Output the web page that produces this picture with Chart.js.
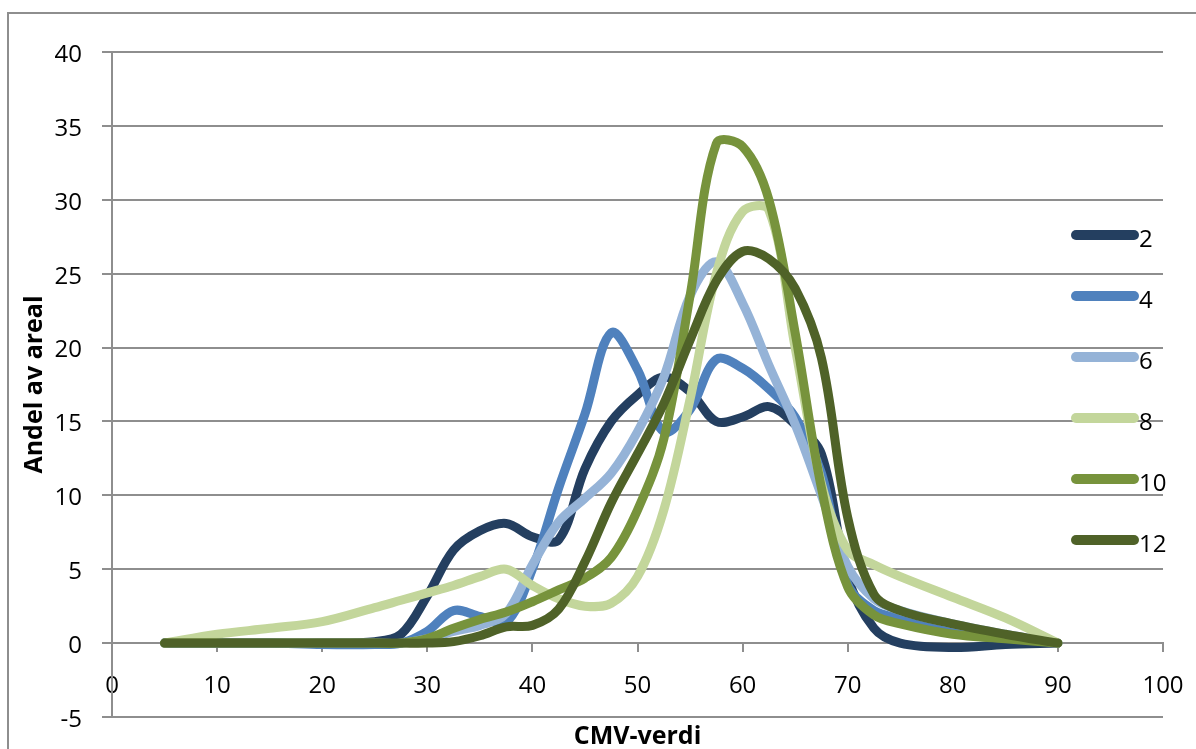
<!DOCTYPE html>
<html>
<head>
<meta charset="utf-8">
<script src="https://cdn.jsdelivr.net/npm/chart.js@4.4.0/dist/chart.umd.min.js"></script>
<style>
  html, body { margin: 0; padding: 0; background: #fff; overflow: hidden; }
  #wrap { position: relative; width: 1196px; height: 749px; overflow: hidden; }
  #frame { position: absolute; left: 7px; top: 12px; width: 1300px; height: 900px; border: 2px solid #8e8e8e; }
  #chart { position: absolute; left: 0; top: 0; }
  .item { position: absolute; left: 1071px; height: 10px; width: 110px; }
  .swatch { position: absolute; left: 0; top: 0; width: 68px; height: 10px; border-radius: 5px; }
  .label { position: absolute; left: 68px; top: -4px; font-family: 'Open Sans', sans-serif; font-size: 24px; line-height: 24px; color: #000; }
</style>
</head>
<body>
<div id="wrap">
  <div id="frame"></div>
  <canvas id="chart" width="1196" height="749"></canvas>
  <div id="legend"></div>
</div>
<script>
// CMV-verdi (x) where the curves were read
const cmv = [5, 10, 15, 20, 25, 27.5, 30, 32.5, 35, 37.5, 40, 42.5, 45, 47.5, 50,
  52.5, 55, 57.5, 60, 62.5, 65, 67.5, 70, 72.5, 75, 80, 85, 90];

// Andel av areal for each series
const s2  = [0, 0, 0, 0, 0.1, 0.6, 3.2, 6.3, 7.6, 8.1, 7.2, 7.0, 11.8, 15.0, 16.8,
  18.0, 17.0, 15.0, 15.3, 16.0, 14.8, 12.8, 4.5, 1.0, 0, -0.3, -0.1, 0];
const s4  = [0, 0, 0, -0.1, -0.1, 0, 0.8, 2.2, 1.8, 1.4, 5.0, 10.5, 15.5, 21.0, 18.5,
  14.3, 15.8, 19.2, 18.6, 17.2, 15.3, 11.5, 4.0, 2.2, 1.7, 1.0, 0.5, 0];
const s6  = [0, 0, 0, 0, 0, 0, 0.3, 0.8, 1.2, 2.0, 5.3, 8.2, 9.8, 11.5, 14.3,
  18.0, 23.5, 25.8, 23.0, 18.8, 14.8, 10.0, 5.2, 3.0, 2.2, 1.3, 0.6, 0];
const s8  = [0, 0.6, 1.0, 1.45, 2.4, 2.9, 3.4, 3.9, 4.5, 5.0, 3.9, 3.0, 2.5, 2.7, 4.5,
  9.0, 16.5, 25.0, 29.2, 29.3, 20.0, 10.8, 6.3, 5.3, 4.5, 3.1, 1.7, 0];
const s10 = [0, 0, 0, 0, 0, 0, 0.3, 1.0, 1.6, 2.1, 2.8, 3.6, 4.4, 5.8, 9.0,
  13.8, 23.5, 33.8, 33.6, 30.0, 21.0, 10.5, 3.8, 1.9, 1.3, 0.6, 0.3, 0];
const s12 = [0, 0, 0, 0, 0, 0, 0, 0.1, 0.5, 1.1, 1.2, 2.3, 5.5, 9.5, 12.8,
  16.2, 20.5, 24.5, 26.5, 26.0, 24.0, 19.3, 8.5, 3.3, 2.2, 1.3, 0.6, 0];

const seriesNames = ['2', '4', '6', '8', '10', '12'];
const seriesValues = [s2, s4, s6, s8, s10, s12];
const seriesColors = ['#243f60', '#4f81bd', '#95b3d7', '#c3d69b', '#77933c', '#4f6228'];

const gridColor = '#8e8e8e';
const fontFamily = 'Open Sans';

const datasets = seriesNames.map((name, i) => ({
  label: name,
  data: cmv.map((x, j) => ({ x: x, y: seriesValues[i][j] })),
  borderColor: seriesColors[i],
  backgroundColor: seriesColors[i],
  borderWidth: 9,
  borderCapStyle: 'round',
  borderJoinStyle: 'round',
  pointRadius: 0,
  tension: 0.35,
  fill: false,
  order: seriesNames.length - 1 - i  // later series drawn on top, like Excel
}));

// x axis sits at y = 0, so its title is drawn under the plot area instead
const xTitleBelow = {
  id: 'xTitleBelow',
  afterDraw(chart) {
    const { ctx, chartArea } = chart;
    ctx.save();
    ctx.font = 'bold 25px "' + fontFamily + '"';
    ctx.fillStyle = '#000';
    ctx.textAlign = 'center';
    ctx.textBaseline = 'middle';
    ctx.fillText('CMV-verdi', (chartArea.left + chartArea.right) / 2, chartArea.bottom + 20);
    ctx.restore();
  }
};

new Chart(document.getElementById('chart'), {
  type: 'line',
  data: { datasets: datasets },
  plugins: [xTitleBelow],
  options: {
    responsive: false,
    animation: false,
    devicePixelRatio: 1,
    layout: { padding: { left: 10, top: 52, right: 33, bottom: 32 } },
    plugins: {
      legend: { display: false },
      tooltip: { enabled: false }
    },
    scales: {
      x: {
        type: 'linear',
        position: { y: 0 },
        min: 0,
        max: 100,
        ticks: { stepSize: 10, color: '#000', font: { family: fontFamily, size: 24, lineHeight: 2.4 }, padding: 6, maxRotation: 0 },
        grid: { drawOnChartArea: false, drawTicks: true, tickLength: 8, color: gridColor, lineWidth: 2 },
        border: { color: gridColor, width: 2 }
      },
      y: {
        min: -5,
        max: 40,
        ticks: { stepSize: 5, color: '#000', font: { family: fontFamily, size: 24, lineHeight: 1 }, padding: 20, labelOffset: 3 },
        grid: { color: gridColor, lineWidth: 2, tickLength: 10 },
        border: { color: gridColor, width: 2 },
        title: { display: true, text: 'Andel av areal', color: '#000', font: { family: fontFamily, size: 25, weight: 'bold' }, padding: { top: 10, bottom: 0 } },
        afterFit: function(scale) { scale.width = 102; }
      }
    }
  }
});

// legend sits inside the plot area on the right
const legend = document.getElementById('legend');
seriesNames.forEach((name, i) => {
  const item = document.createElement('div');
  item.className = 'item';
  item.style.top = (230 + i * 61) + 'px';
  item.innerHTML = '<div class="swatch" style="background:' + seriesColors[i] + '"></div>' +
    '<span class="label">' + name + '</span>';
  legend.appendChild(item);
});
</script>
</body>
</html>
